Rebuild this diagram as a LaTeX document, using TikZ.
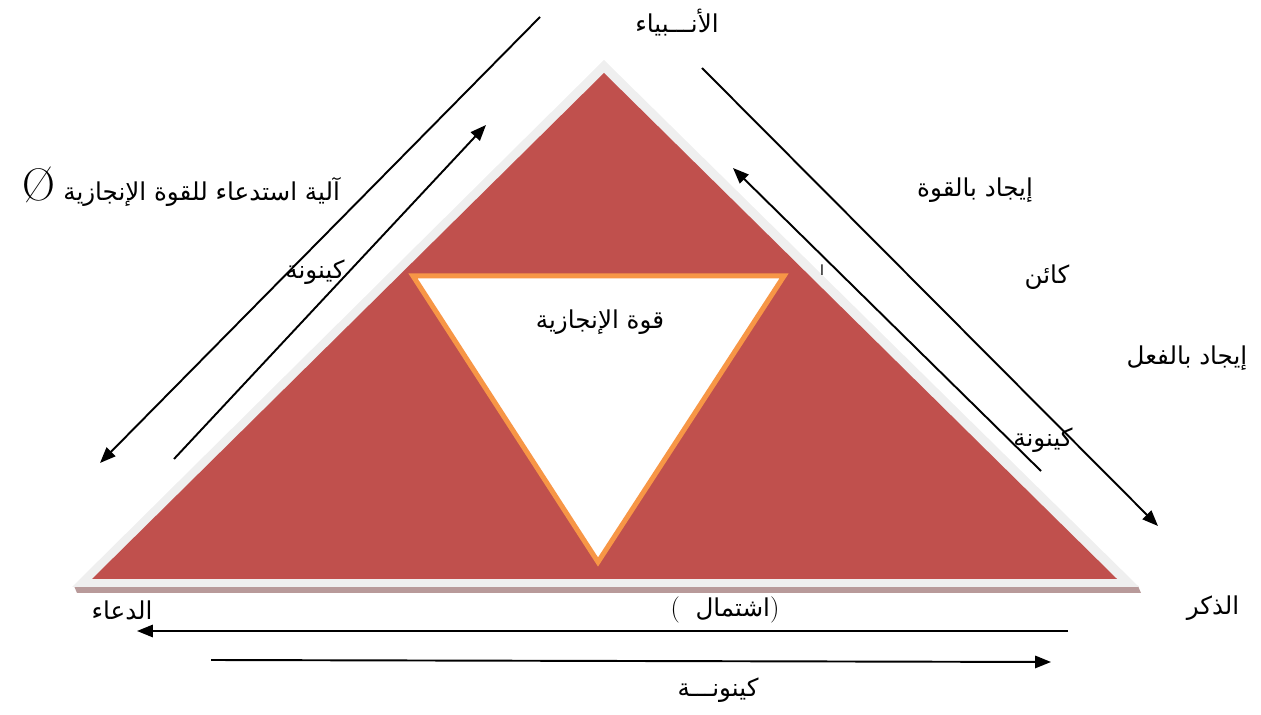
\documentclass[tikz,border=0pt]{standalone}
\usepackage{fontspec}
\TeXXeTstate=1
\newfontfamily\arabicfont[Script=Arabic]{DejaVu Sans}
\usetikzlibrary{arrows.meta}

\definecolor{trired}{HTML}{C0504D}
\definecolor{tririm}{HTML}{EFEFEF}
\definecolor{trishade}{HTML}{B89A9A}
\definecolor{innerrim}{HTML}{F79646}

\begin{document}
\begin{tikzpicture}[x=0.02cm, y=-0.02cm,
    >={Triangle[length=9pt, width=7pt]},
    lbl/.style={font=\fontsize{14}{16}\selectfont\arabicfont, inner sep=1pt},
    ar/.style={->, draw=black, line width=1.1pt}]
  \useasboundingbox (0,0) rectangle (1261,715);
  % big triangle
  \fill[trishade] (74,586) -- (1138,586) -- (1141,593) -- (77,593) -- cycle;
  \fill[tririm] (604,60) -- (1139,587) -- (72,587) -- cycle;
  \fill[trired] (604,73) -- (1117,579) -- (92,579) -- cycle;
  % inner triangle
  \draw[draw=innerrim, fill=white, line width=0.1cm, line join=miter] (413,276) -- (784,276) -- (598,562) -- cycle;
  % labels
  \node[lbl] (anbiya) at (677,23) {\beginR الأنـــبياء\endR};
  \node[lbl, anchor=east] (alia) at (342,187) {{\rmfamily\fontsize{26}{28}\selectfont Ø}\ \beginR آلية استدعاء للقوة الإنجازية\endR};
  \node[lbl] (kaynuna1) at (315,272) {\beginR كينونة\endR};
  \node[lbl] (ijadq) at (975,190) {\beginR إيجاد بالقوة\endR};
  \node[lbl] (kaen) at (1047,277) {\beginR كائن\endR};
  \node[lbl] (ijadf) at (1187,358) {\beginR إيجاد بالفعل\endR};
  \node[lbl] (kaynuna2) at (1043,440) {\beginR كينونة\endR};
  \node[lbl] (quwwa) at (600,322) {\beginR قوة الإنجازية\endR};
  \node[lbl, font=\fontsize{8}{9}\selectfont\arabicfont] (alif) at (822,270) {\beginR ا\endR};
  \node[lbl] (duaa) at (122,610) {\beginR الدعاء\endR};
  \node[lbl] (ishtimal) at (725,610) {{\rmfamily\fontsize{15}{17}\selectfont(}\ \ \beginR اشتمال\endR{\rmfamily\fontsize{15}{17}\selectfont)}};
  \node[lbl] (dhikr) at (1213,608) {\beginR الذكر\endR};
  \node[lbl] (kaynuna3) at (718,690) {\beginR كينونـــة\endR};
  % arrow ends
  \coordinate (lo1) at (540,17);   \coordinate (lo2) at (100,463);
  \coordinate (li1) at (174,459);  \coordinate (li2) at (486,125);
  \coordinate (ro1) at (702,68);   \coordinate (ro2) at (1158,526);
  \coordinate (ri1) at (1041,471); \coordinate (ri2) at (733,168);
  \coordinate (bt1) at (1068,631); \coordinate (bt2) at (137,631);
  \coordinate (bb1) at (211,660);  \coordinate (bb2) at (1051,662);
  \draw[ar] (lo1) -- (lo2);
  \draw[ar] (li1) -- (li2);
  \draw[ar] (ro1) -- (ro2);
  \draw[ar] (ri1) -- (ri2);
  \draw[ar] (bt1) -- (bt2);
  \draw[ar] (bb1) -- (bb2);
\end{tikzpicture}
\end{document}
